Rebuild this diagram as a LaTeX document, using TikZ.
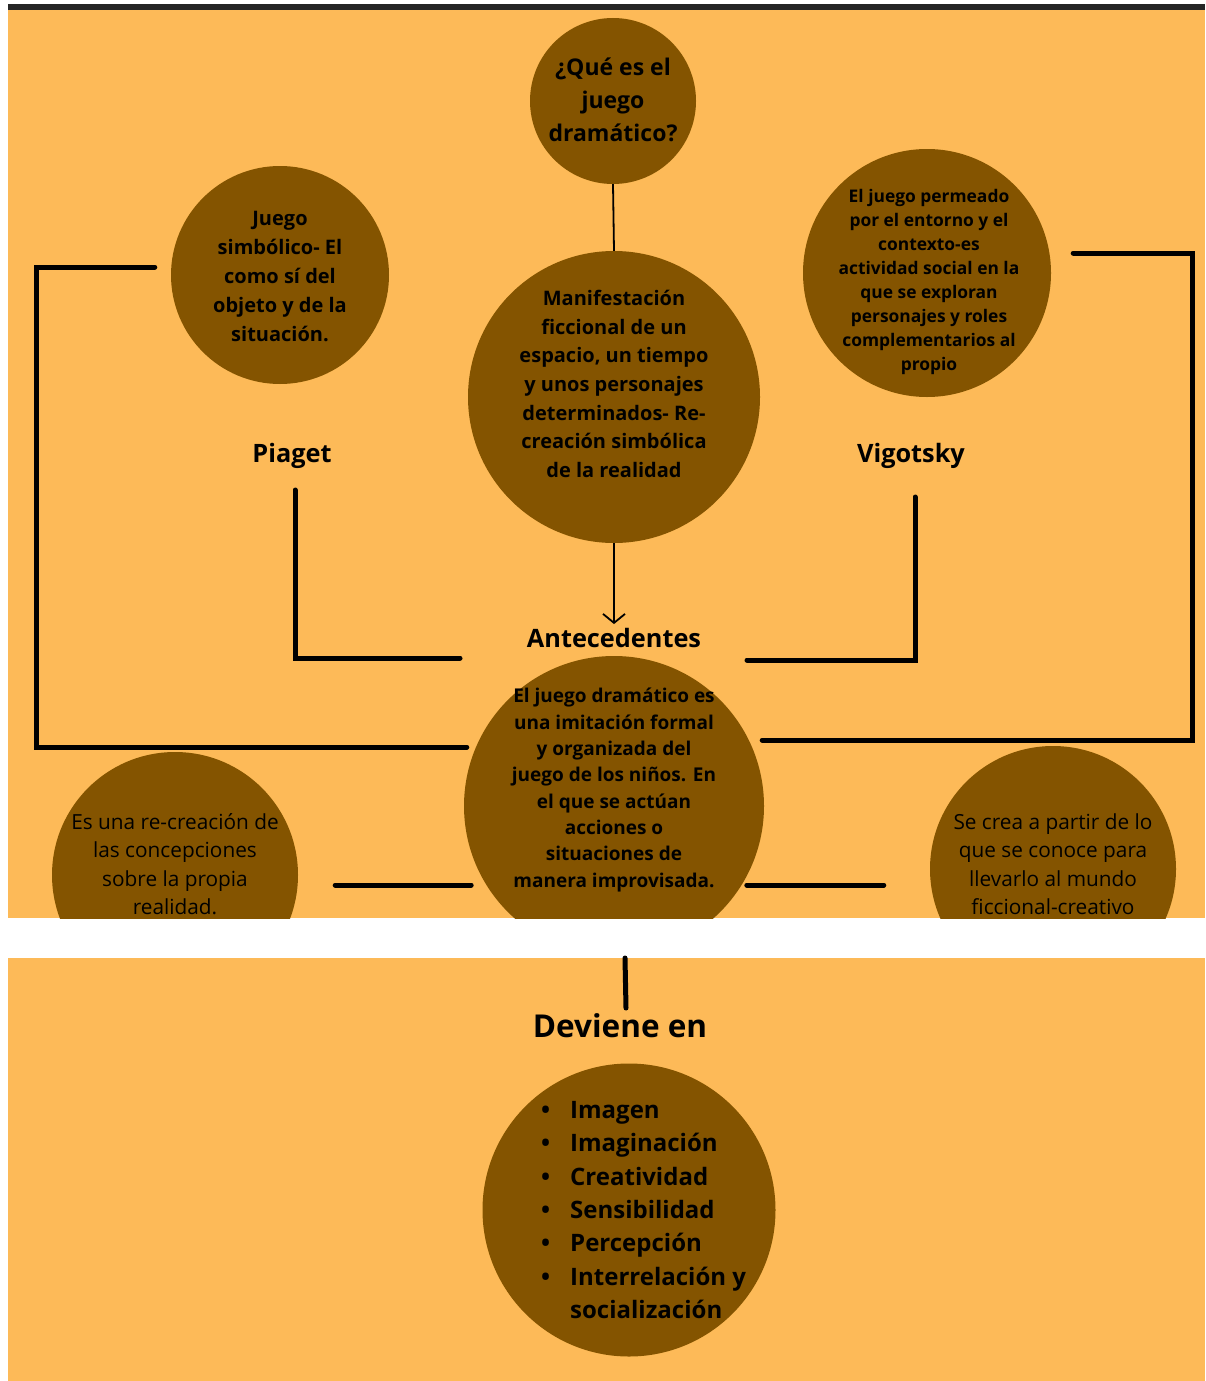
\documentclass[tikz,border=0pt]{standalone}
\usepackage{fontspec}
\setmainfont{Open Sans}
\usepackage{tikz}
\usetikzlibrary{arrows.meta}
\definecolor{fondo}{RGB}{253,186,88}
\definecolor{cafe}{RGB}{132,84,0}
\newcommand{\tam}[2]{\fontsize{#1}{#2}\selectfont}
\tikzset{
  burbuja/.style={circle, fill=cafe, inner sep=0pt},
  texto/.style={align=center, text=black, inner sep=0pt},
  linea/.style={line width=5pt, line cap=round},
  fina/.style={line width=1.8pt},
}

\begin{document}
\begin{tikzpicture}[x=1pt,y=-1pt]
                \useasboundingbox (0,0) rectangle (1205,1381);
                \fill[white] (0,0) rectangle (1205,1381);
                \fill[black!85] (8,4) rectangle (1205,10);
                \fill[fondo] (8,10) rectangle (1205,918);
                \fill[fondo] (8,958) rectangle (1205,1381);
                \begin{scope}
                \clip (8,10) rectangle (1205,918);
                \node[burbuja, minimum size=166pt] (que) at (613,101) {};
                \node[burbuja, minimum size=218pt] (simb) at (280,275) {};
                \node[burbuja, minimum size=292pt] (manif) at (614,397) {};
                \node[burbuja, minimum size=248pt] (entorno) at (927,273) {};
                \node[burbuja, minimum size=300pt] (imit) at (614,806) {};
                \node[burbuja, minimum size=246pt] (recrea) at (175,875) {};
                \node[burbuja, minimum size=246pt] (crea) at (1053,869) {};
                % textos de las burbujas
                \node[texto, font=\tam{23}{33}\bfseries] (queT) at (613,100) {¿Qué es el\\juego\\dramático?};
                \node[texto, font=\tam{20}{29}\bfseries] (simbT) at (280,276) {Juego\\simbólico- El\\como sí del\\objeto y de la\\situación.};
                \node[texto, font=\tam{20}{28.7}\bfseries] (manifT) at (614,384) {Manifestación\\ficcional de un\\espacio, un tiempo\\y unos personajes\\determinados- Re-\\creación simbólica\\de la realidad};
                \node[texto, font=\tam{17.4}{24}\bfseries] (entornoT) at (929,282) {El juego permeado\\por el entorno y el\\contexto-es\\actividad social en la\\que se exploran\\personajes y roles\\complementarios al\\propio};
                \node[texto, font=\tam{19}{26.3}\bfseries] (imitT) at (614,790) {El juego dramático es\\una imitación formal\\y organizada del\\juego de los niños. En\\el que se actúan\\acciones o\\situaciones de\\manera improvisada.};
                \node[texto, font=\tam{20.8}{28.5}] (recreaT) at (175,864) {Es una re-creación de\\las concepciones\\sobre la propia\\realidad.};
                \node[texto, font=\tam{20.8}{28.5}] (creaT) at (1053,864) {Se crea a partir de lo\\que se conoce para\\llevarlo al mundo\\ficcional-creativo};
                \end{scope}
                \node[burbuja, minimum size=293pt] (deviene) at (629,1210) {};
                \node[texto, align=left, anchor=west, font=\tam{24}{33.4}\bfseries] (lista) at (541,1210) {%
                  \makebox[29pt][l]{•}Imagen\\\makebox[29pt][l]{•}Imaginación\\\makebox[29pt][l]{•}Creatividad\\\makebox[29pt][l]{•}Sensibilidad\\\makebox[29pt][l]{•}Percepción\\\makebox[29pt][l]{•}Interrelación y\\\hspace*{29pt}socialización};
                % rotulos
                \node[texto, font=\tam{25.3}{30}\bfseries] (piaget) at (292,456) {Piaget};
                \node[texto, font=\tam{25.3}{30}\bfseries] (vigot) at (911,456) {Vigotsky};
                \node[texto, font=\tam{25.3}{30}\bfseries] (antec) at (614,638) {Antecedentes};
                \node[texto, font=\tam{31.5}{36}\bfseries] (devT) at (620,1026) {Deviene en};
                \coordinate (corte) at (625,958);
                % conectores
                \draw[fina] (que.south) -- (manif.north);
                \draw[fina, -{Straight Barb[length=9pt, width=22pt, line width=1.8pt]}] (manif.south) -- ([yshift=4pt]antec.north);
                \draw[linea] ([shift={(3,34)}]piaget.center) -- ++(0,168) -- ++(165,0);
                \draw[linea] ([shift={(4,41)}]vigot.center) -- ++(0,163) -- ++(-168,0);
                \draw[linea] ([shift={(-16,-8)}]simb.west) -- ++(-118,0) -- ++(0,480) -- ++(430,0);
                \draw[linea] ([shift={(22,-20)}]entorno.east) -- ++(119,0) -- ++(0,487) -- ++(-430,0);
                \draw[linea] ([shift={(37,10)}]recrea.east) -- ++(136,0);
                \draw[linea] ([shift={(-46,16)}]crea.west) -- ++(-137,0);
                \draw[linea] (corte) -- ++(1,50);
            \end{tikzpicture}
\end{document}
